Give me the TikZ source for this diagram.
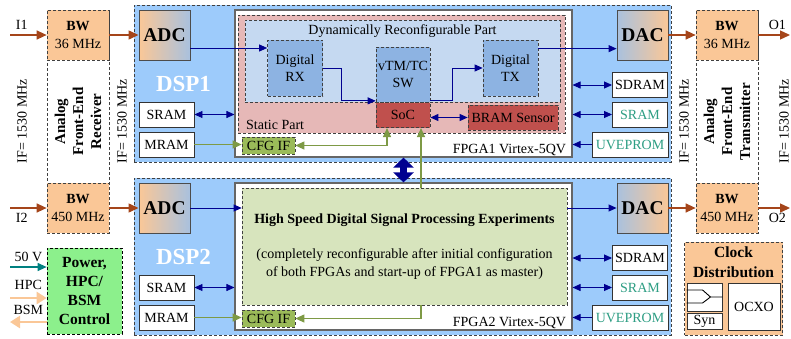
\documentclass[tikz,border=0pt]{standalone}
\usepackage{fontspec}
\setmainfont{Liberation Serif}
\usepackage{tikz}
\usetikzlibrary{arrows.meta,positioning,calc}
\definecolor{dspblue}{HTML}{9DCBFB}
\definecolor{peach}{HTML}{FAC797}
\definecolor{convblue}{HTML}{A9C1DE}
\definecolor{statpink}{HTML}{E6B8B7}
\definecolor{dynblue}{HTML}{C5D9F1}
\definecolor{digblue}{HTML}{8DB3E2}
\definecolor{socred}{HTML}{C0504D}
\definecolor{cfggreen}{HTML}{9BBB59}
\definecolor{cfgline}{HTML}{7E9A45}
\definecolor{hsgreen}{HTML}{D7E4BD}
\definecolor{pwrgreen}{HTML}{8CF08C}
\definecolor{rust}{HTML}{A5451A}
\definecolor{sigblue}{HTML}{000090}
\definecolor{memteal}{HTML}{2E9E84}
\definecolor{feed}{HTML}{008080}
\definecolor{edge}{HTML}{404040}

\begin{document}
\begin{tikzpicture}[x=1pt,y=-1pt,
  font=\fontsize{14}{17.5}\selectfont,
  frame/.style={draw=edge,dash pattern=on 3pt off 2pt,line width=0.7pt,inner sep=0pt},
  dsp/.style={frame,fill=dspblue,minimum width=537pt,minimum height=157pt},
  fpga/.style={draw=black!60,fill=white,line width=1.1pt,minimum width=337pt,minimum height=147pt},
  fe/.style={frame,fill=white,minimum width=62pt,minimum height=223pt},
  bwbox/.style={frame,fill=peach,minimum width=62pt,minimum height=50pt,align=center},
  conv/.style={draw=black!70,line width=0.9pt,minimum width=51pt,minimum height=50pt,font=\fontsize{19.5}{20}\bfseries},
  mem/.style={draw=black!80,fill=white,line width=0.9pt,inner sep=0pt,minimum width=55pt,minimum height=25pt},
  blk/.style={frame,fill=digblue,minimum width=55pt,minimum height=56pt,align=center},
  cfgif/.style={frame,fill=cfggreen,minimum width=53pt,minimum height=17pt},
  sig/.style={sigblue,line width=0.9pt,-{Triangle[length=8pt,width=7pt]}},
  sigboth/.style={sig,{Triangle[length=8pt,width=7pt]}-{Triangle[length=8pt,width=7pt]}},
  cfgln/.style={cfgline,line width=1.1pt,-{Triangle[length=9pt,width=8pt]}},
  rf/.style={rust,line width=1.3pt,-{Triangle[length=10pt,width=9pt]}},
  busarr/.style={peach,line width=2.5pt,-{Triangle[length=10pt,width=12pt]}},
  tag/.style={text=black},
  rot/.style={rotate=90,align=center,inner sep=0pt,font=\fontsize{14}{18}\selectfont}
]
  \useasboundingbox (0,0) rectangle (791,338);
  \node[fe] (rxfe) at (78,121.5) {};
  \node[fe] (txfe) at (727,121.5) {};
  \node[rot,font=\fontsize{15}{18}\bfseries] (rxname) at (78,121.5) {Analog\\Front-End\\Receiver};
  \node[rot,font=\fontsize{15}{18}\bfseries] (txname) at (727,121.5) {Analog\\Front-End\\Transmitter};
  \foreach \x in {22,122,684,784}{\node[rot] (if\x) at (\x,121) {IF= 1530 MHz};}

  \foreach \i/\oy/\bw/\ly in {1/0/36/10pt,2/173/450/-10pt}{
    \node[dsp] (dsp\i) at (402.5,83.5+\oy) {};
    \node[fpga] (fpga\i) at (403.5,83.5+\oy) {};
    \node[font=\fontsize{23}{23}\bfseries,text=white] (dspname\i) at (183.5,84+\oy) {DSP\i};
    \node[bwbox] (bwin\i) at (78,35+\oy) {\textbf{BW}\\\bw\ MHz};
    \node[bwbox] (bwout\i) at (727,35+\oy) {\textbf{BW}\\\bw\ MHz};
    \node[conv,left color=peach,right color=convblue] (adc\i) at (164.5,35+\oy) {ADC};
    \node[conv,left color=convblue,right color=peach] (dac\i) at (642.5,35+\oy) {DAC};
    \node[mem] (sraml\i) at (166.5,114.5+\oy) {SRAM};
    \node[mem] (mram\i) at (166.5,144.5+\oy) {MRAM};
    \node[mem] (sdram\i) at (640,85+\oy) {SDRAM};
    \node[mem,text=memteal] (sramr\i) at (640,114.5+\oy) {SRAM};
    \node[mem,text=memteal,minimum width=76pt] (uvp\i) at (630,144.5+\oy) {UVEPROM};
    \node[cfgif] (cfg\i) at (268.5,145.5+\oy) {CFG IF};
    \node[anchor=base east] (fpganame\i) at ([shift={(-3pt,4pt)}]fpga\i.south east) {FPGA\i\ Virtex-5QV};
    \coordinate (in\i) at (10,35+\oy);
    \coordinate (out\i) at (790,35+\oy);
    \draw[rf] (in\i) -- node[tag,pos=0.32,yshift=\ly] (iname\i) {I\i} (bwin\i.west);
    \draw[rf] (bwin\i.east) -- (adc\i.west);
    \draw[rf] (dac\i.east) -- (bwout\i.west);
    \draw[rf] (bwout\i.east) -- node[tag,pos=0.6,yshift=\ly] (oname\i) {O\i} (out\i);
    \draw[sigboth] (sraml\i.east) -- (sraml\i.east -| fpga\i.west);
    \draw[cfgln] (mram\i.east) -- (mram\i.east -| cfg\i.west);
    \draw[sigboth] (sdram\i.west) -- (sdram\i.west -| fpga\i.east);
    \draw[sigboth] (sramr\i.west) -- (sramr\i.west -| fpga\i.east);
    \draw[sig] (uvp\i.west) -- (uvp\i.west -| fpga\i.east);
  }

  \node[frame,fill=statpink,minimum width=327pt,minimum height=118pt] (stat) at (401.5,74) {};
  \node[anchor=base west] (statname) at ([shift={(5pt,4pt)}]stat.south west) {Static Part};
  \node[frame,fill=dynblue,minimum width=315pt,minimum height=82pt] (dyn) at (402.5,61) {};
  \node[below=5pt of dyn.north,inner sep=0pt] (dynname) {Dynamically Reconfigurable Part};
  \node[blk] (digrx) at (295,68) {Digital\\RX};
  \node[blk,minimum width=54pt,minimum height=55pt] (vtm) at (403,74.5) {vTM/TC\\SW};
  \node[blk] (digtx) at (510.5,68) {Digital\\TX};
  \node[frame,fill=socred,minimum width=54pt,minimum height=25pt,below=0pt of vtm] (soc) {SoC};
  \node[frame,fill=socred,minimum width=90pt,minimum height=25pt] (bram) at (513,117.5) {BRAM Sensor};
  \node[frame,fill=hsgreen,minimum width=325pt,minimum height=117pt,align=center] (hsdsp) at (404.5,246.5)
    {\textbf{High Speed Digital Signal Processing Experiments}\\[17.5pt](completely reconfigurable after initial configuration\\of both FPGAs and start-up of FPGA1 as master)};

  \draw[sig] ([yshift=-13pt]adc1.east) coordinate (rxin) -- (rxin -| digrx.west);
  \draw[sig] (digrx.east) -- ++(19,0) |- ([yshift=1.5pt]vtm.south west);
  \draw[sig] ([yshift=1.5pt]vtm.south east) -- ++(22,0) |- (digtx.west);
  \draw[sig] ([yshift=-9pt]digtx.north east) coordinate (txout) -- (txout -| dac1.west);
  \draw[sigboth] (soc.east |- bram.west) -- (bram.west);
  \draw[cfgln,{Triangle[length=9pt,width=8pt]}-{Triangle[length=9pt,width=8pt]}] (cfg1.east) -| ([xshift=-16pt]soc.south);
  \coordinate (socin) at ([xshift=18pt]soc.south);
  \draw[cfgln] (socin |- hsdsp.north) -- (socin);
  \draw[cfgln] (socin |- hsdsp.south) |- (cfg2.east);
  \draw[sig] (adc2.east) -- (adc2.east -| hsdsp.west);
  \draw[sig] (hsdsp.east |- dac2.west) -- (dac2.west);
  \draw[sigblue,line width=7pt,{Triangle[length=10pt,width=20pt]}-{Triangle[length=10pt,width=20pt]}] (fpga1.south) -- (fpga2.north);

  \node[frame,draw=black,fill=pwrgreen,minimum width=75pt,minimum height=86pt,align=center,font=\fontsize{15.5}{19}\bfseries] (pwr) at (84.5,291) {Power,\\HPC/\\BSM\\Control};
  \coordinate (vin) at (10,267);
  \coordinate (hpcin) at (10,298);
  \coordinate (bsmout) at (10,322);
  \draw[feed,line width=1.2pt,-{Triangle[length=9pt,width=8pt]}] (vin) -- node[tag,pos=0.5,yshift=10.5pt] (vname) {50 V} (vin -| pwr.west);
  \draw[busarr] (hpcin) -- node[tag,pos=0.5,yshift=13pt] (hpcname) {HPC} (hpcin -| pwr.west);
  \draw[busarr] (bsmout -| pwr.west) -- node[tag,pos=0.5,yshift=12pt] (bsmname) {BSM} (bsmout);

  \node[frame,fill=peach,minimum width=98pt,minimum height=93pt] (clk) at (733.5,288.5) {};
  \node[below=5pt of clk.north,align=center,inner sep=0pt,font=\fontsize{15.5}{20}\bfseries] (clkname) {Clock\\Distribution};
  \node[mem,minimum width=35pt,minimum height=28pt] (comb) at (704.5,297) {};
  \node[mem,minimum width=35pt,minimum height=16pt] (syn) at (704.5,321) {Syn};
  \node[mem,minimum width=52pt,minimum height=47pt] (ocxo) at (754,306.5) {OCXO};
  \draw[line width=0.9pt] ([yshift=7pt]comb.west) -- ++(16,0) -- ([xshift=-12pt]comb.east) -- (comb.east);
  \draw[line width=0.9pt] ([yshift=-6pt]comb.west) -- ++(16,0) -- ([xshift=-12pt]comb.east);
\end{tikzpicture}
\end{document}
